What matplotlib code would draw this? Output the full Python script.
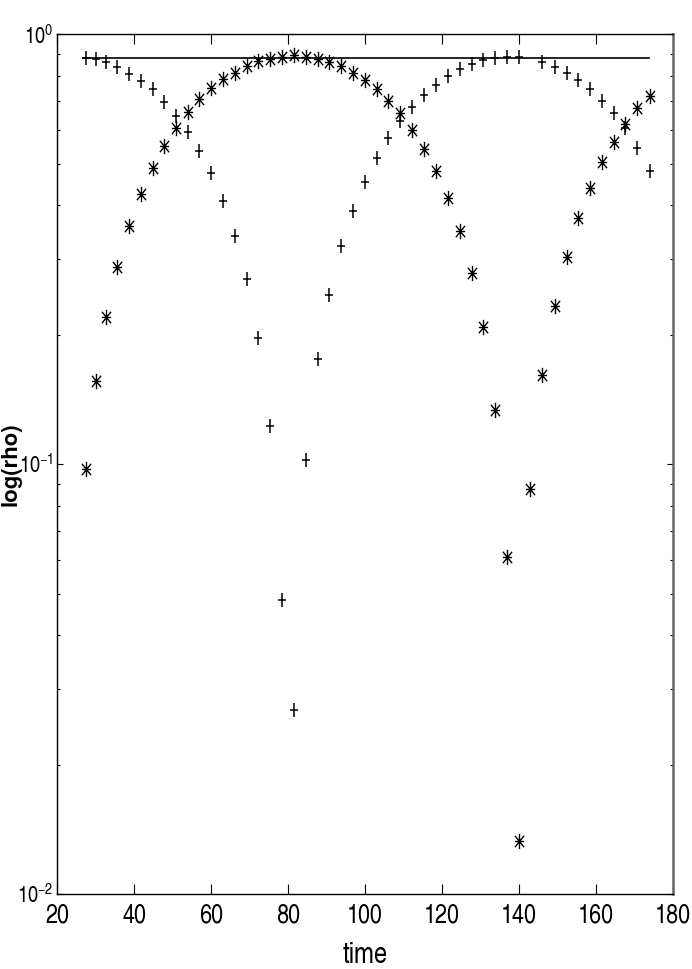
import matplotlib
matplotlib.use("Agg")
import matplotlib.pyplot as plt
import numpy as np
from matplotlib.path import Path

# sample times
time = [27.5, 30.0, 32.7, 35.5, 38.6, 41.7, 44.8, 47.7, 50.9, 53.9,
        56.9, 59.9, 63.1, 66.2, 69.2, 72.2, 75.3, 78.4, 81.5, 84.6,
        87.7, 90.7, 93.7, 96.9, 100.0, 103.1, 106.1, 109.2, 112.3, 115.4,
        118.5, 121.5, 124.6, 127.7, 130.7, 133.8, 136.9, 140.1, 143.0, 146.1,
        149.3, 152.4, 155.4, 158.5, 161.6, 164.7, 167.7, 170.8, 174.0]

# '+' series (one point missing near t=143)
rho_plus = [0.880, 0.875, 0.861, 0.839, 0.810, 0.780, 0.745, 0.697, 0.647, 0.593,
            0.536, 0.475, 0.409, 0.340, 0.270, 0.197, 0.123, 0.0483, 0.0268, 0.102,
            0.176, 0.248, 0.321, 0.389, 0.454, 0.515, 0.575, 0.630, 0.679, 0.722,
            0.762, 0.800, 0.829, 0.854, 0.871, 0.882, 0.887, 0.887, np.nan, 0.864,
            0.841, 0.814, 0.783, 0.745, 0.700, 0.655, 0.604, 0.543, 0.481]

# '*' series
rho_star = [0.0973, 0.156, 0.220, 0.287, 0.358, 0.426, 0.488, 0.551, 0.606, 0.659,
            0.706, 0.749, 0.787, 0.814, 0.845, 0.868, 0.877, 0.887, 0.894, 0.887,
            0.877, 0.864, 0.844, 0.814, 0.783, 0.745, 0.700, 0.655, 0.599, 0.540,
            0.481, 0.415, 0.349, 0.278, 0.208, 0.134, 0.0609, 0.0133, 0.0874, 0.161,
            0.233, 0.304, 0.373, 0.440, 0.504, 0.562, 0.617, 0.673, 0.719]

# flat reference line
line_t = [26.6, 173.9]
line_rho = [0.882, 0.882]

plt.rcParams['font.family'] = ['TeX Gyre Heros Cn', 'Liberation Sans', 'DejaVu Sans']

# markers drawn narrower than tall, like the squeezed original
w = 0.6
plus_mk = Path([(-w, 0), (w, 0), (0, -1), (0, 1)],
               [Path.MOVETO, Path.LINETO, Path.MOVETO, Path.LINETO])
star_mk = Path([(-w, 0), (w, 0), (0, -1), (0, 1),
                (-w, -0.75), (w, 0.75), (-w, 0.75), (w, -0.75)],
               [Path.MOVETO, Path.LINETO, Path.MOVETO, Path.LINETO,
                Path.MOVETO, Path.LINETO, Path.MOVETO, Path.LINETO])

fig = plt.figure(figsize=(6.92, 9.69), dpi=100)
ax = fig.add_axes([0.0828, 0.0774, 0.8893, 0.8872])

ax.plot(line_t, line_rho, color='black', lw=1.2)
ax.plot(time, rho_plus, linestyle='none', marker=plus_mk, markersize=9.5,
        mec='black', mfc='none', mew=1.1)
ax.plot(time, rho_star, linestyle='none', marker=star_mk, markersize=11,
        mec='black', mfc='none', mew=1.0)

ax.set_yscale('log')
ax.set_xlim(20, 180)
ax.set_ylim(1e-2, 1)
ax.set_xticks(np.arange(20, 181, 20))

ax.tick_params(axis='x', which='major', direction='in', top=True, length=7.5,
               width=0.8, labelsize=19, pad=7)
ax.tick_params(axis='y', which='major', direction='in', right=True, length=4.5,
               width=0.8, labelsize=16, pad=3)
ax.tick_params(axis='y', which='minor', direction='in', right=True, length=2.2,
               width=0.8)
ax.tick_params(axis='x', which='minor', bottom=False, top=False)

for s in ax.spines.values():
    s.set_linewidth(1.0)
ax.spines['right'].set_color('#666666')
ax.spines['right'].set_linewidth(1.8)

ax.set_xlabel('time', fontsize=21, labelpad=10)
ax.set_ylabel('log(rho)', fontsize=16, fontfamily='TeX Gyre Heros', fontweight='bold')
ax.yaxis.set_label_coords(-0.0585, 0.5)

fig.savefig('out.png', dpi=100)
